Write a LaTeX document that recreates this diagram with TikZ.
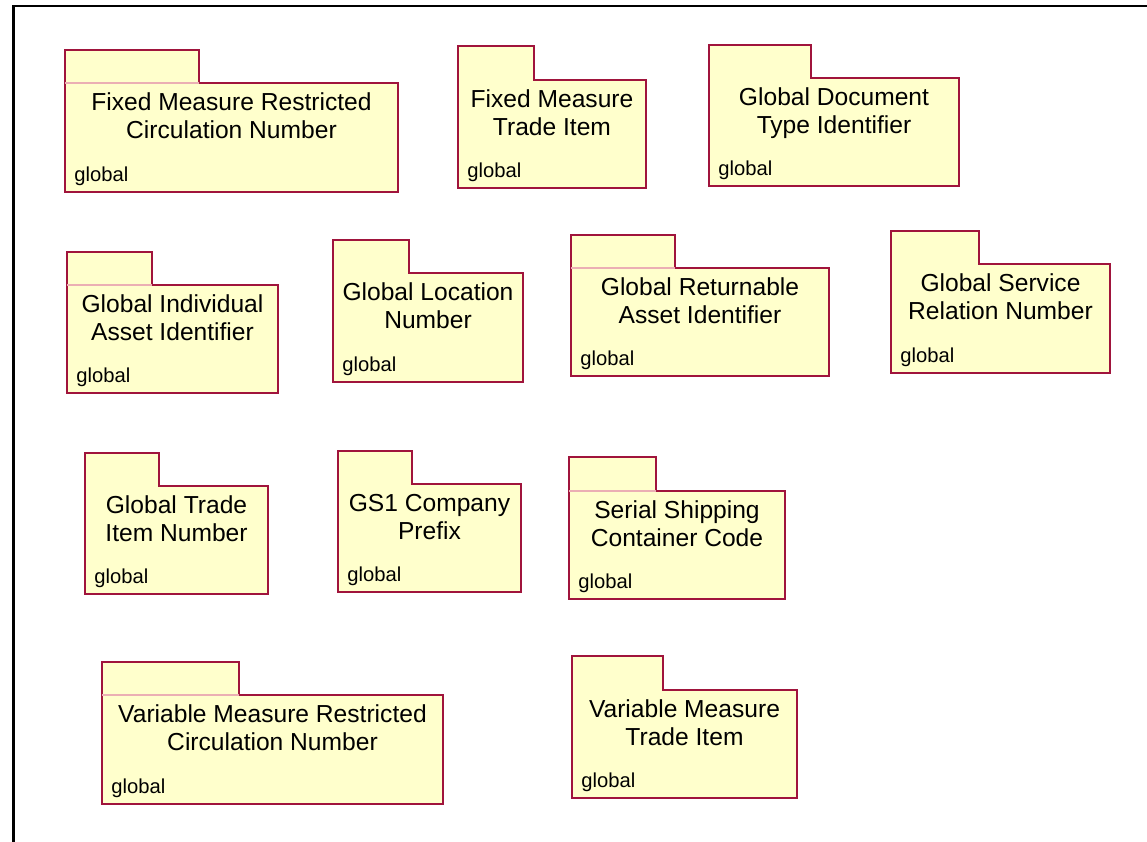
\documentclass[tikz,border=0pt]{standalone}
\usepackage{fontspec}
\setmainfont{Liberation Sans}
\usetikzlibrary{positioning}

\definecolor{pkgfill}{RGB}{255,255,204}
\definecolor{pkgedge}{RGB}{160,20,60}
\definecolor{pkgsep}{RGB}{235,175,180}

% #1 name, #2 left, #3 tab right, #4 tab top, #5 body top, #6 right, #7 bottom, #8 title
\newcommand{\umlpkg}[8]{%
	\draw [pkgline] (#2,#4) -- (#3,#4) -- (#3,#5) -- (#6,#5) -- (#6,#7) -- (#2,#7) -- cycle;
	\coordinate (#1-nw) at (#2,#5);
	\coordinate (#1-tab) at (#3,#5);
	\node [pkgtitle] (#1) at ({(#2+#6)/2},{#5+9.5}) {#8};
	\node [pkgns] (#1-ns) at ({#2+9},{#7-10.5}) {global};
}

\begin{document}
\begin{tikzpicture}[x=0.02cm,y=-0.02cm,
	pkgline/.style={draw=pkgedge,fill=pkgfill,line width=0.6pt},
	pkgsep/.style={draw=pkgsep,line width=0.6pt},
	pkgtitle/.style={anchor=north,inner sep=0pt,align=center,font=\fontsize{14}{16}\selectfont},
	pkgns/.style={anchor=base west,inner sep=0pt,font=\fontsize{11.5}{13}\selectfont}]
	\useasboundingbox (0,0) rectangle (1147,842);
	% frame
	\draw [line width=1.7pt] (1147,6) -- (13.5,6) -- (13.5,842);
	% first row
	\umlpkg{fmrcn}{65}{199}{50}{83}{398}{192}{Fixed Measure Restricted\\Circulation Number}
	\umlpkg{fmti}{458}{534}{46}{80}{646}{188}{Fixed Measure\\Trade Item}
	\umlpkg{gdti}{709}{811}{45}{78}{959}{186}{Global Document\\Type Identifier}
	% second row
	\umlpkg{giai}{67}{152}{252}{285}{278}{393}{Global Individual\\Asset Identifier}
	\umlpkg{gln}{333}{409}{240}{273}{523}{382}{Global Location\\Number}
	\umlpkg{grai}{571}{675}{235}{268}{829}{376}{Global Returnable\\Asset Identifier}
	\umlpkg{gsrn}{891}{979}{231}{264}{1110}{373}{Global Service\\Relation Number}
	% third row
	\umlpkg{gtin}{85}{159}{453}{486}{268}{594}{Global Trade\\Item Number}
	\umlpkg{gcp}{338}{412}{451}{484}{521}{592}{GS1 Company\\Prefix}
	\umlpkg{sscc}{569}{656}{457}{491}{785}{599}{Serial Shipping\\Container Code}
	% fourth row
	\umlpkg{vmrcn}{102}{239}{662}{695}{443}{804}{Variable Measure Restricted\\Circulation Number}
	\umlpkg{vmti}{572}{663}{656}{690}{797}{798}{Variable Measure\\Trade Item}
	% faint tab separators
	\foreach \p in {fmrcn,giai,grai,sscc,vmrcn}
		\draw [pkgsep] (\p-nw) -- (\p-tab);
\end{tikzpicture}
\end{document}
